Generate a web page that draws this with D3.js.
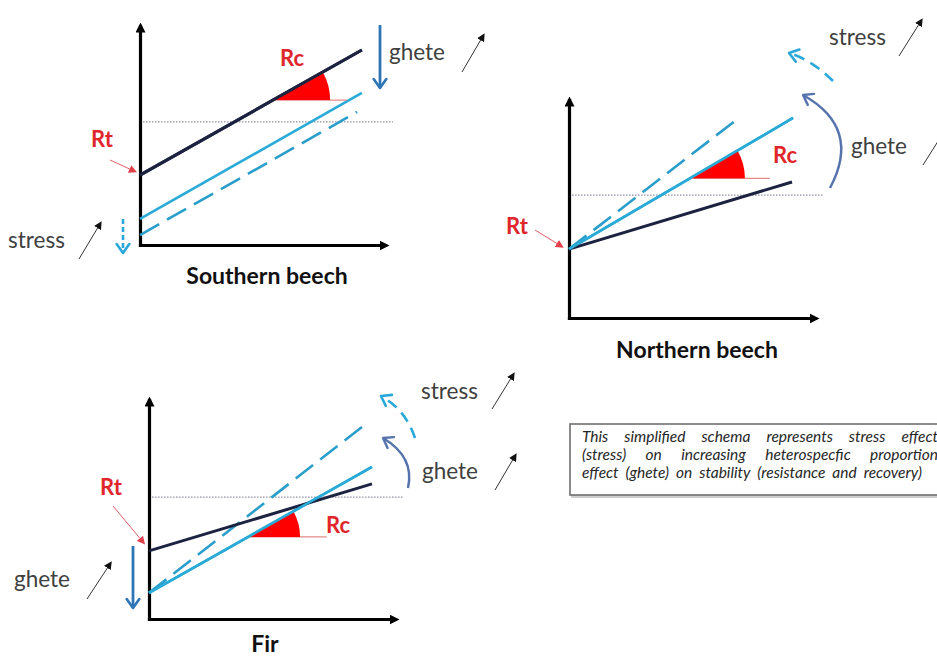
<!DOCTYPE html>
<html>
<head>
<meta charset="utf-8">
<script src="https://cdn.jsdelivr.net/npm/d3@7"></script>
<style>
  html, body { margin: 0; padding: 0; background: #fff; }
  svg { display: block; }
  text { font-family: Lato, "Open Sans", sans-serif; }
</style>
</head>
<body>
<svg id="chart" width="937" height="659"></svg>
<script>
// ---------------- DATA (schematic units, 0..10 on each axis) ----------------
const panelNames   = ["Southern beech", "Northern beech", "Fir"];
// dark line (reference stability)
const darkStart    = [3.08, 3.05, 3.00];
const darkEnd      = [[8.77, 8.59], [8.78, 6.02], [8.78, 5.95]];
// solid light-blue line (ghete effect)
const solidStart   = [1.15, 3.05, 1.15];
const solidEnd     = [[8.77, 6.70], [8.82, 8.85], [8.78, 6.70]];
// dashed light-blue line (stress effect)
const dashStart    = [0.44, 3.05, 1.15];
const dashEnd      = [[8.58, 5.86], [6.73, 8.89], [8.58, 8.63]];
// dotted reference level
const refLevel     = [5.42, 5.44, 5.37];
const refRange     = [[0.12, 10], [0.12, 10], [0.12, 10]];
// Rc wedge: x where the angle sits, x where its baseline ends, line it measures
const rcAt         = [5.26, 4.76, 3.90];
const rcTo         = [8.18, 7.91, 7.00];
const rcOn         = ["dark", "solid", "solid"];
const noteLines    = [
  "This simplified schema represents stress effect",
  "(stress) on increasing heterospecfic proportion",
  "effect (ghete) on stability (resistance and recovery)"
];

// ---------------- LAYOUT ----------------
const frames = [
  { ox: 140, oy: 245, xt: 393, yt: 18,  rcR: 57 },
  { ox: 569, oy: 318, xt: 823, yt: 92,  rcR: 55 },
  { ox: 149, oy: 619, xt: 403, yt: 392, rcR: 52 }
];
const C = {
  axis: "#000", dark: "#1c2340", solid: "#2aaad6", dash: "#2a9ecb",
  ref: "#8e8ea6", red: "#ff0000", redText: "#e0262b", redThin: "#e58a8a",
  blue: "#2e75b6", slate: "#5673ad", cyan: "#2ba8da", grey: "#404040"
};
const FS = { word: 22.5, rc: 22, title: 23 };

const svg = d3.select("#chart");
const defs = svg.append("defs");
function filledHead(id, color, size) {
  defs.append("marker").attr("id", id)
    .attr("markerUnits", "userSpaceOnUse")
    .attr("viewBox", `0 0 ${size} ${size}`)
    .attr("refX", size * 0.6).attr("refY", size / 2)
    .attr("markerWidth", size).attr("markerHeight", size)
    .attr("orient", "auto")
    .append("path").attr("d", `M0,0 L${size},${size / 2} L0,${size} z`).attr("fill", color);
}
function vHead(id, color, size, sw) {
  defs.append("marker").attr("id", id)
    .attr("markerUnits", "userSpaceOnUse")
    .attr("viewBox", `-2 -2 ${size + 4} ${size * 1.4 + 4}`)
    .attr("refX", size).attr("refY", size * 0.7)
    .attr("markerWidth", size + 4).attr("markerHeight", size * 1.4 + 4)
    .attr("orient", "auto")
    .append("path").attr("d", `M0,0 L${size},${size * 0.7} L0,${size * 1.4}`)
    .attr("fill", "none").attr("stroke", color).attr("stroke-width", sw)
    .attr("stroke-linecap", "round").attr("stroke-linejoin", "round");
}
filledHead("axisHead", "#000", 10);
filledHead("smallHead", "#111", 8);
filledHead("redHead", "#e0404a", 8);
vHead("vBlue", C.blue, 9, 2.6);
vHead("vSlate", C.slate, 9, 2.4);
vHead("vCyan", C.cyan, 9, 2.6);

function arrow(g, x1, y1, x2, y2, color, w, marker, dash) {
  g.append("line").attr("x1", x1).attr("y1", y1).attr("x2", x2).attr("y2", y2)
    .attr("stroke", color).attr("stroke-width", w)
    .attr("stroke-dasharray", dash || null)
    .attr("marker-end", `url(#${marker})`);
}
function curve(g, p0, c, p2, color, w, marker, dash) {
  g.append("path").attr("d", `M${p0[0]},${p0[1]} Q${c[0]},${c[1]} ${p2[0]},${p2[1]}`)
    .attr("fill", "none").attr("stroke", color).attr("stroke-width", w)
    .attr("stroke-dasharray", dash || null)
    .attr("marker-end", `url(#${marker})`);
}
function label(g, x, y, txt, size, color, weight, anchor) {
  g.append("text").attr("x", x).attr("y", y).text(txt)
    .attr("font-size", size).attr("fill", color)
    .attr("font-weight", weight || "normal")
    .attr("text-anchor", anchor || "start");
}

// ---------------- PANELS ----------------
const scales = frames.map(f => ({
  x: d3.scaleLinear().domain([0, 10]).range([f.ox, f.xt]),
  y: d3.scaleLinear().domain([0, 10]).range([f.oy, f.yt])
}));

frames.forEach((f, i) => {
  const g = svg.append("g");
  const { x, y } = scales[i];

  // dotted reference
  g.append("line")
    .attr("x1", x(refRange[i][0])).attr("x2", x(refRange[i][1]))
    .attr("y1", y(refLevel[i])).attr("y2", y(refLevel[i]))
    .attr("stroke", C.ref).attr("stroke-width", 1.3).attr("stroke-dasharray", "1.5,1.5");

  // axes (library axes without ticks, arrowheads on the domain line)
  const xa = x.copy().range([f.ox, f.xt - 8]);
  const ya = y.copy().range([f.oy, f.yt + 8]);
  const gx = g.append("g").attr("transform", `translate(0,${f.oy})`)
    .call(d3.axisBottom(xa).tickValues([]).tickSizeOuter(0));
  const gy = g.append("g").attr("transform", `translate(${f.ox},0)`)
    .call(d3.axisLeft(ya).tickValues([]).tickSizeOuter(0));
  [gx, gy].forEach(a => a.select(".domain")
    .attr("stroke", C.axis).attr("stroke-width", 3.2)
    .attr("stroke-linecap", "square")
    .attr("marker-end", "url(#axisHead)"));

  const line = d3.line().x(d => x(d[0])).y(d => y(d[1]));
  const series = {
    dark:  [[0, darkStart[i]],  darkEnd[i]],
    solid: [[0, solidStart[i]], solidEnd[i]],
    dash:  [[0, dashStart[i]],  dashEnd[i]]
  };
  g.append("path").datum(series.dash).attr("d", line)
    .attr("fill", "none").attr("stroke", C.dash).attr("stroke-width", 2.6)
    .attr("stroke-dasharray", "22,9");
  g.append("path").datum(series.solid).attr("d", line)
    .attr("fill", "none").attr("stroke", C.solid).attr("stroke-width", 2.6);
  g.append("path").datum(series.dark).attr("d", line)
    .attr("fill", "none").attr("stroke", C.dark).attr("stroke-width", 3);

  // Rc wedge
  const s = series[rcOn[i]];
  const t = (rcAt[i] - s[0][0]) / (s[1][0] - s[0][0]);
  const yAt = s[0][1] + t * (s[1][1] - s[0][1]);
  const px = x(rcAt[i]), py = y(yAt);
  const ang = Math.atan2(y(s[0][1]) - y(s[1][1]), x(s[1][0]) - x(s[0][0]));
  g.append("line").attr("x1", px).attr("x2", x(rcTo[i]))
    .attr("y1", py).attr("y2", py)
    .attr("stroke", C.redThin).attr("stroke-width", 1.2);
  g.append("path")
    .attr("transform", `translate(${px},${py})`)
    .attr("d", d3.arc()({ innerRadius: 0, outerRadius: f.rcR,
                          startAngle: Math.PI / 2 - ang, endAngle: Math.PI / 2 }))
    .attr("fill", C.red);
  // redraw the measured line over the wedge
  g.append("path").datum(s).attr("d", line).attr("fill", "none")
    .attr("stroke", rcOn[i] === "dark" ? C.dark : C.solid)
    .attr("stroke-width", rcOn[i] === "dark" ? 3 : 2.6);
});

// ---------------- ANNOTATIONS ----------------
const a = svg.append("g");
// Panel 1 : Southern beech
label(a, 292, 66, "Rc", FS.rc, C.redText, "bold", "middle");
label(a, 102, 147, "Rt", FS.rc, C.redText, "bold", "middle");
arrow(a, 110, 160, 134, 171, "#e0606a", 1, "redHead");
arrow(a, 380, 25, 380, 88, C.blue, 2.8, "vBlue");
label(a, 389, 60, "ghete", FS.word, C.grey);
arrow(a, 462, 72, 483, 36, "#333", 1, "smallHead");
label(a, 8, 248, "stress", FS.word, C.grey);
arrow(a, 79, 259, 100, 224, "#333", 1, "smallHead");
arrow(a, 123, 219, 123, 253, C.cyan, 2.6, "vCyan", "5,3");
label(a, 267, 284, panelNames[0], FS.title, "#111", "bold", "middle");

// Panel 2 : Northern beech
label(a, 785, 163, "Rc", FS.rc, C.redText, "bold", "middle");
label(a, 517, 234, "Rt", FS.rc, C.redText, "bold", "middle");
arrow(a, 535, 230, 561, 246, "#e0606a", 1, "redHead");
curve(a, [830, 188], [862, 128], [803, 95], C.slate, 2.4, "vSlate");
curve(a, [833, 81], [812, 60], [789, 53], C.cyan, 2.6, "vCyan", "11,7");
label(a, 829, 45, "stress", FS.word, C.grey);
arrow(a, 899, 56, 921, 21, "#333", 1, "smallHead");
label(a, 851, 154, "ghete", FS.word, C.grey);
arrow(a, 923, 165, 947, 127, "#333", 1, "smallHead");
label(a, 697, 358, panelNames[1], FS.title, "#111", "bold", "middle");

// Panel 3 : Fir
label(a, 338, 533, "Rc", FS.rc, C.redText, "bold", "middle");
label(a, 111, 495, "Rt", FS.rc, C.redText, "bold", "middle");
arrow(a, 113, 506, 143, 542, "#e0606a", 1, "redHead");
arrow(a, 133, 546, 133, 608, C.blue, 2.8, "vBlue");
label(a, 14, 587, "ghete", FS.word, C.grey);
arrow(a, 87, 599, 110, 564, "#333", 1, "smallHead");
curve(a, [408, 488], [415, 457], [383, 438], C.slate, 2.4, "vSlate");
curve(a, [415, 438], [406, 410], [381, 396], C.cyan, 2.6, "vCyan", "11,7");
label(a, 421, 399, "stress", FS.word, C.grey);
arrow(a, 492, 409, 513, 375, "#333", 1, "smallHead");
label(a, 422, 479, "ghete", FS.word, C.grey);
arrow(a, 495, 490, 515, 456, "#333", 1, "smallHead");
label(a, 265, 652, panelNames[2], FS.title, "#111", "bold", "middle");

// ---------------- NOTE BOX ----------------
const box = svg.append("g");
box.append("rect").attr("x", 571).attr("y", 427).attr("width", 380).attr("height", 71)
  .attr("fill", "#cfcfcf");
box.append("rect").attr("x", 570).attr("y", 424).attr("width", 380).attr("height", 71)
  .attr("fill", "#fff").attr("stroke", "#6f6f6f").attr("stroke-width", 1.6);
const lineX0 = 582, lineX1 = 938, lastX1 = 922, noteFS = 15.5, baseY = [442, 460, 478];
noteLines.forEach((txt, li) => {
  const words = txt.split(" ");
  const tg = box.append("g");
  const nodes = words.map(w => tg.append("text").text(w)
    .attr("font-size", noteFS).attr("font-style", "italic").attr("fill", "#262626")
    .attr("y", baseY[li]));
  const widths = nodes.map(n => n.node().getComputedTextLength());
  const total = d3.sum(widths);
  const end = li < noteLines.length - 1 ? lineX1 : lastX1;
  const gap = (end - lineX0 - total) / (words.length - 1);
  let cx = lineX0;
  nodes.forEach((n, k) => { n.attr("x", cx); cx += widths[k] + gap; });
});
</script>
</body>
</html>
